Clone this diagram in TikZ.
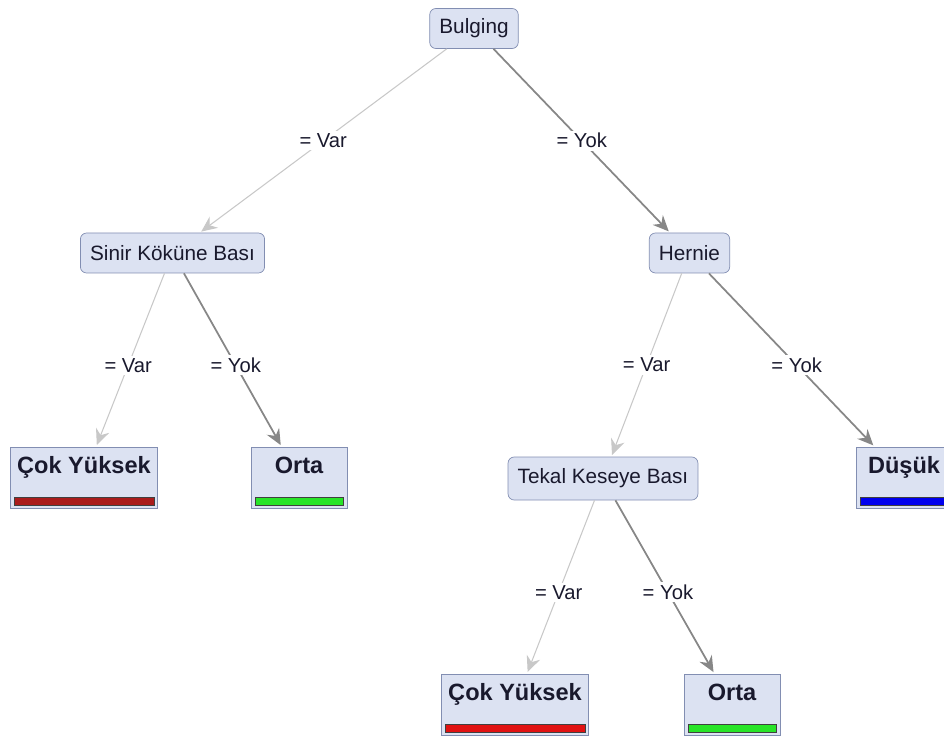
\documentclass[tikz,border=0pt]{standalone}
\usepackage{fontspec}
\setmainfont{Liberation Sans}
\usetikzlibrary{arrows.meta,positioning}

\definecolor{boxfill}{RGB}{220,226,242}
\definecolor{boxline}{RGB}{130,142,178}
\definecolor{varline}{RGB}{200,200,200}
\definecolor{yokline}{RGB}{135,135,135}
\definecolor{txt}{RGB}{25,25,45}
\definecolor{barcy1}{RGB}{170,28,28}
\definecolor{barcy2}{RGB}{225,18,18}
\definecolor{barorta}{RGB}{40,228,40}
\definecolor{bardusuk}{RGB}{0,0,238}

\begin{document}
\begin{tikzpicture}[on grid,
                    >={Stealth[length=9pt,width=8pt,inset=3pt]},
                    test/.style={draw=boxline,fill=boxfill,rounded corners=3.5pt,
                                 minimum height=0.8cm,inner xsep=5.5pt,
                                 text=txt,font=\fontsize{11.8}{14}\selectfont},
                    leaf/.style={draw=boxline,fill=boxfill,minimum width=1.92cm,
                                 inner xsep=4pt,inner ysep=0.1cm,
                                 text height=0.42cm,text depth=0.6cm,
                                 text=txt,font=\fontsize{13.4}{15}\selectfont\bfseries,
                                 path picture={\draw[black!75,fill=#1]
                                   ([shift={(0.09cm,0.06cm)}]path picture bounding box.south west) rectangle
                                   ([shift={(-0.07cm,0.22cm)}]path picture bounding box.south east);}},
                    var/.style={<-,draw=varline,line width=0.6pt,shorten <=1pt},
                    yok/.style={<-,draw=yokline,line width=1pt,shorten <=1pt},
                    cond/.style={fill=white,inner sep=1.5pt,text=txt,
                                 font=\fontsize{11.5}{13}\selectfont}]

\useasboundingbox (-9.48,0.57) rectangle (9.40,-14.19);
\clip (-9.48,0.57) rectangle (9.40,-14.19);

\node[test] (bulging) {Bulging};

% left branch
\node[test,below left=4.49cm and 6.03cm of bulging] (sinir) {Sinir Köküne Bası}
  edge[var] node[cond,pos=0.5] {= Var} (bulging);
\node[leaf=barcy1,below left=4.49cm and 1.77cm of sinir] (cy1) {Çok Yüksek}
  edge[var] node[cond,pos=0.47] {= Var} (sinir);
\node[leaf=barorta,below right=4.49cm and 2.53cm of sinir] (orta1) {Orta}
  edge[yok] node[cond,pos=0.47] {= Yok} (sinir);

% right branch
\node[test,below right=4.49cm and 4.31cm of bulging] (hernie) {Hernie}
  edge[yok] node[cond,pos=0.5] {= Yok} (bulging);
\node[test,below left=4.51cm and 1.73cm of hernie,minimum height=0.86cm] (tekal) {Tekal Keseye Bası}
  edge[var] node[cond,pos=0.5] {= Var} (hernie);
\node[leaf=bardusuk,below right=4.49cm and 4.29cm of hernie] (dusuk) {Düşük}
  edge[yok] node[cond,pos=0.47] {= Yok} (hernie);

% under tekal
\node[leaf=barcy2,below left=4.52cm and 1.76cm of tekal] (cy2) {Çok Yüksek}
  edge[var] node[cond,pos=0.47] {= Var} (tekal);
\node[leaf=barorta,below right=4.52cm and 2.58cm of tekal] (orta2) {Orta}
  edge[yok] node[cond,pos=0.47] {= Yok} (tekal);

\end{tikzpicture}
\end{document}
